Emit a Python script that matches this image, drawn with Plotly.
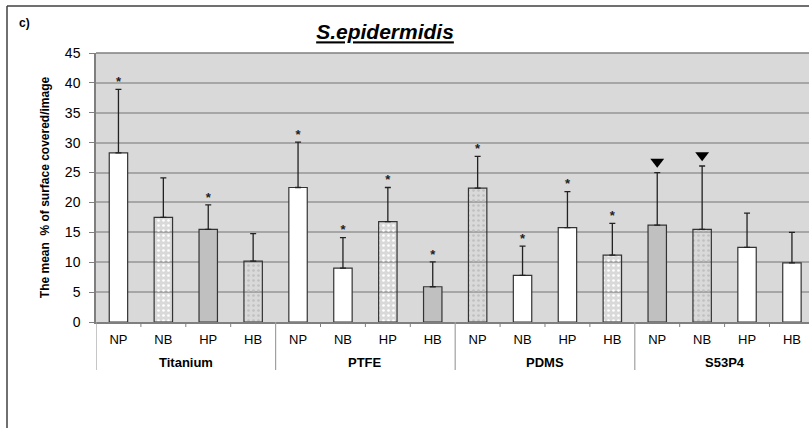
import plotly.graph_objects as go

groups = ["Titanium", "PTFE", "PDMS", "S53P4"]
cats = ["NP", "NB", "HP", "HB"]
means = [28.3, 17.5, 15.5, 10.2,
         22.5, 9.0, 16.8, 5.9,
         22.4, 7.8, 15.8, 11.2,
         16.2, 15.5, 12.5, 9.9]
err_top = [38.9, 24.1, 19.6, 14.8,
           30.1, 14.1, 22.5, 10.05,
           27.7, 12.7, 21.8, 16.5,
           25.0, 26.1, 18.2, 15.0]
fills = ["#ffffff", "#ffffff", "#c0c0c0", "#c0c0c0",
         "#ffffff", "#ffffff", "#ffffff", "#c0c0c0",
         "#c0c0c0", "#ffffff", "#ffffff", "#ffffff",
         "#c0c0c0", "#c0c0c0", "#ffffff", "#ffffff"]
dotted = [False, True, False, True,
          False, False, True, False,
          True, False, False, True,
          False, True, False, False]
signif = ["*", "", "*", "",
          "*", "*", "*", "*",
          "*", "*", "*", "*",
          "tri", "tri", "", ""]
y_ticks = [0, 5, 10, 15, 20, 25, 30, 35, 40, 45]

FONT = "Arial, 'Liberation Sans', sans-serif"
n = len(means)
xs = list(range(n))
labels = [cats[i % len(cats)] for i in range(n)]

fig = go.Figure()
fig.add_trace(go.Bar(
    x=xs, y=means, width=0.41,
    marker=dict(
        color=fills,
        line=dict(color="#333333", width=1.2),
        pattern=dict(shape=["." if d else "" for d in dotted],
                     bgcolor=fills, fgcolor="#333333",
                     size=5, solidity=0.22, fillmode="replace"),
    ),
    error_y=dict(type="data", symmetric=False,
                 array=[e - m for e, m in zip(err_top, means)],
                 arrayminus=[0] * n, color="#222222", thickness=1.3, width=3),
    showlegend=False, hoverinfo="skip",
))

star_x = [x for x, s in zip(xs, signif) if s == "*"]
star_y = [e for e, s in zip(err_top, signif) if s == "*"]
fig.add_trace(go.Scatter(
    x=star_x, y=star_y, mode="text", text=["<b>*</b>"] * len(star_x),
    textposition="top center",
    textfont=dict(family=FONT, size=13, color="#222222"),
    showlegend=False, hoverinfo="skip",
))
tri_x = [x for x, s in zip(xs, signif) if s == "tri"]
tri_y = [e + 1.8 for e, s in zip(err_top, signif) if s == "tri"]
fig.add_trace(go.Scatter(
    x=tri_x, y=tri_y, mode="markers",
    marker=dict(symbol="triangle-down", size=12, color="#000000"),
    showlegend=False, hoverinfo="skip",
))

L, T, B = 96, 53, 115
W, H = 809, 437
ph = H - T - B
pw = W - L
y0px = T + ph  # pixel row of y = 0


def py(p):
    return (y0px - p) / ph


def px(p):
    return (p - L) / pw


shapes = []
shapes.append(dict(type="line", xref="paper", yref="paper", x0=0, x1=1, y0=1, y1=1,
                   line=dict(color="#7f7f7f", width=1.5)))
for b in range(n + 1):
    xb = b - 0.5
    if b % len(cats) == 0:
        shapes.append(dict(type="line", xref="x", yref="paper", x0=xb, x1=xb,
                           y0=0, y1=py(370), line=dict(color="#a0a0a0", width=1.2)))
    else:
        shapes.append(dict(type="line", xref="x", yref="paper", x0=xb, x1=xb,
                           y0=0, y1=py(327), line=dict(color="#7f7f7f", width=1)))
shapes.append(dict(type="line", xref="paper", yref="paper",
                   x0=px(7), x1=px(7), y0=py(6), y1=py(428),
                   line=dict(color="#404040", width=1.5)))
shapes.append(dict(type="line", xref="paper", yref="paper",
                   x0=px(7), x1=px(812), y0=py(6), y1=py(6),
                   line=dict(color="#404040", width=1.5)))

annotations = []
for gi, g in enumerate(groups):
    cx = gi * len(cats) + (len(cats) - 1) / 2
    annotations.append(dict(x=cx, xref="x", y=py(362), yref="paper", yanchor="middle",
                            text="<b>" + g + "</b>", showarrow=False,
                            font=dict(family=FONT, size=13, color="#000000")))
annotations.append(dict(x=px(17), xref="paper", y=py(23), yref="paper", yanchor="middle",
                        text="<b>c)</b>", showarrow=False, xanchor="left",
                        font=dict(family=FONT, size=12, color="#000000")))

fig.update_layout(
    width=W, height=H,
    margin=dict(l=L, r=0, t=T, b=B),
    paper_bgcolor="#ffffff", plot_bgcolor="#d9d9d9",
    title=dict(text="<u><b><i>S.epidermidis</i></b></u>", x=385 / W, xanchor="center",
               y=1 - 32 / H, yanchor="middle",
               font=dict(family=FONT, size=21, color="#000000")),
    xaxis=dict(range=[-0.5, 15.38], tickvals=xs, ticktext=labels, ticks="",
               showgrid=False, zeroline=False, showline=True, linecolor="#7f7f7f",
               linewidth=1.5, ticklabelstandoff=5,
               tickfont=dict(family=FONT, size=13, color="#000000")),
    yaxis=dict(range=[0, 45], tickvals=y_ticks, ticks="outside", ticklen=5,
               tickcolor="#7f7f7f", showgrid=True, gridcolor="#a6a6a6", gridwidth=1.5,
               zeroline=False, showline=True, linecolor="#7f7f7f", linewidth=1.5,
               ticklabelstandoff=6,
               tickfont=dict(family=FONT, size=14, color="#000000"),
               title=dict(text="<b>The mean  % of surface covered/image</b>", standoff=13,
                          font=dict(family=FONT, size=12, color="#000000"))),
    shapes=shapes, annotations=annotations,
)
fig.write_html("out.html")
